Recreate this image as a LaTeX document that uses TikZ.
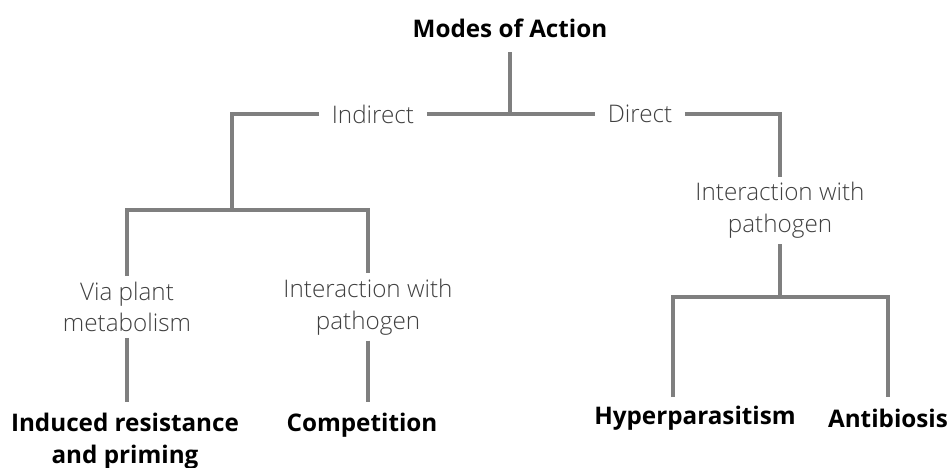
\documentclass[tikz,border=0pt]{standalone}
\usepackage{fontspec}
\setmainfont{Open Sans}
\newfontfamily\lightfont{Open Sans Light}
\usepackage{tikz}
\usetikzlibrary{positioning}

\definecolor{branchgray}{HTML}{7F7F7F}
\definecolor{labelgray}{HTML}{404040}

\tikzset{
  branch/.style={draw=branchgray, line width=2.3pt},
  midlabel/.style={font=\lightfont\fontsize{13.8}{18}\selectfont, text=labelgray,
    align=center, inner xsep=7pt, inner ysep=3pt},
  leaflabel/.style={font=\bfseries\fontsize{13.8}{18}\selectfont, text=black,
    align=center, inner xsep=4pt, inner ysep=3pt}
}

\begin{document}
\begin{tikzpicture}
	\useasboundingbox (0,0) rectangle (19,9.34);
	
	% labels
	\node[leaflabel] (modes) at (10.2,8.78) {Modes of Action};
	\node[midlabel] (indirect) at (7.46,7.06) {Indirect};
	\node[midlabel] (direct) at (12.8,7.06) {Direct};
	\node[midlabel] (via) at (2.54,3.2) {Via plant\\metabolism};
	\node[midlabel] (interL) at (7.36,3.2) {Interaction with\\pathogen};
	\node[midlabel] (interR) at (15.6,5.13) {Interaction with\\pathogen};
	\node[leaflabel] (induced) at (2.5,0.51) {Induced resistance\\and priming};
	\node[leaflabel] (competition) at (7.24,0.83) {Competition};
	\node[leaflabel] (hyper) at (13.9,0.97) {Hyperparasitism};
	\node[leaflabel] (antib) at (17.76,0.97) {Antibiosis};
	
	% junctions and leg ends
	\coordinate (top) at (10.2,8.3);
	\coordinate (mid) at (10.2,7.06);
	\coordinate (leftfork) at (4.64,5.14);
	\coordinate (rightfork) at (15.6,3.4);
	\coordinate (vialeg) at (2.54,1.3);
	\coordinate (interleg) at (7.36,1.3);
	\coordinate (hyperleg) at (13.46,1.4);
	\coordinate (antibleg) at (17.76,1.4);
	
	% branches
	\draw[branch] (top) -- (mid);
	\draw[branch] (indirect) -- (direct);
	\draw[branch] (indirect) -| (leftfork);
	\draw[branch] (via.north) |- (leftfork) -| (interL.north);
	\draw[branch] (via) -- (vialeg);
	\draw[branch] (interL) -- (interleg);
	\draw[branch] (direct) -| (interR);
	\draw[branch] (interR) -- (rightfork);
	\draw[branch] (hyperleg) |- (rightfork) -| (antibleg);
\end{tikzpicture}
\end{document}
